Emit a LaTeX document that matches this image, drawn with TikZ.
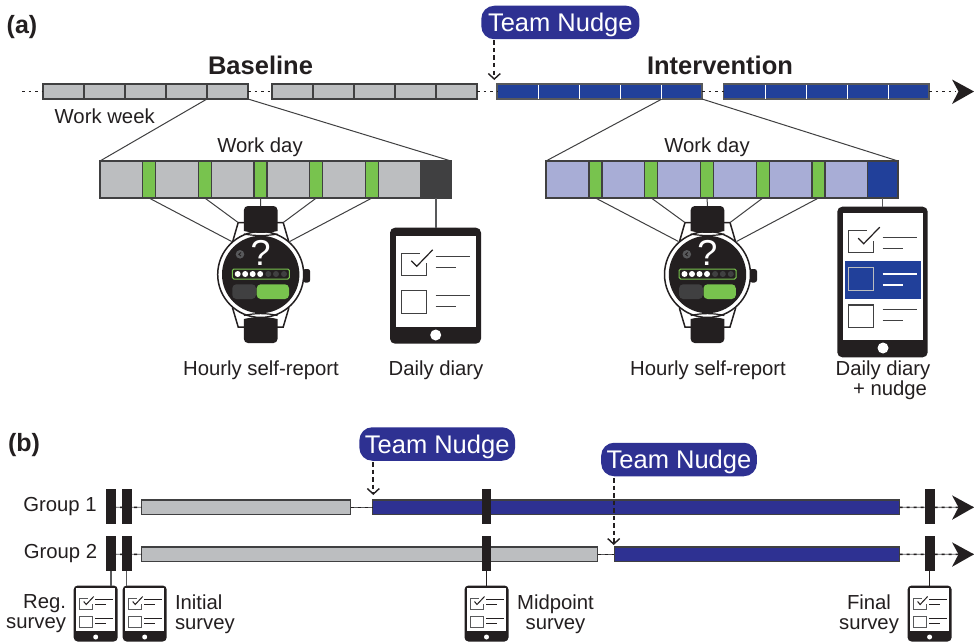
\documentclass[tikz,border=0pt]{standalone}
\usepackage{fontspec}
\setmainfont{Liberation Sans}
\usetikzlibrary{arrows.meta}
\definecolor{ink}{HTML}{231F20}
\definecolor{dk}{HTML}{404041}
\definecolor{gr}{HTML}{BCBEC0}
\definecolor{lil}{HTML}{A8ADD6}
\definecolor{grn}{HTML}{78C34E}
\definecolor{blu}{HTML}{21409A}
\definecolor{nav}{HTML}{2E3192}
\definecolor{edge}{HTML}{58595B}
\newcommand\labfont{\fontsize{20.3}{20}\selectfont}
\tikzset{
 x=1pt,y=-1pt,
 lab/.style={font=\labfont,text=ink,inner sep=0pt,outer sep=0pt,yshift=-2pt},
 ttl/.style={font=\fontsize{25.5}{25}\selectfont\bfseries,text=ink,inner sep=0pt,yshift=-1pt},
 pan/.style={font=\fontsize{25}{25}\selectfont\bfseries,text=ink,inner sep=0pt,yshift=-2pt},
 nudge/.style={fill=nav,rounded corners=13pt,text=white,font=\fontsize{25.5}{25}\selectfont,inner sep=0pt,outer sep=0pt,minimum height=33.5pt,minimum width=#1,text depth=0pt},
 grayseg/.style={fill=gr,draw=dk,line width=1.1pt},
 blueseg/.style={fill=blu,draw=edge,line width=1.1pt},
 navseg/.style={fill=nav,draw=dk,line width=1.1pt},
 daygray/.style={fill=gr,draw=dk,line width=1.1pt},
 daylil/.style={fill=lil,draw=dk,line width=1.1pt},
 greenseg/.style={fill=grn,draw=dk,line width=1.1pt},
 darkseg/.style={fill=dk,draw=dk,line width=1.1pt},
 tickbar/.style={fill=ink,draw=none},
 thin link/.style={draw=dk,line width=1pt},
 dots/.style={draw=ink,line width=1.5pt,dash pattern=on 2.5pt off 4pt},
 dashdrop/.style={draw=ink,line width=2pt,dash pattern=on 4.5pt off 3pt,-{Straight Barb[length=5.5pt,width=12pt,line width=1.4pt]}},
 tabbody/.style={fill=ink,rounded corners=#1,inner sep=0pt,outer sep=0pt},
 sheet/.style={fill=white,draw=none},
 boxline/.style={draw=dk,line width=1.2pt},
}
% #1 style, #2 name, #3 x1, #4 y1, #5 x2, #6 y2
\newcommand\boxnode[6]{\node[#1,anchor=north west,inner sep=0pt,outer sep=0pt,minimum width={(#5-#3)*1pt},minimum height={(#6-#4)*1pt}] (#2) at (#3,#4) {};}
% watch: #1 prefix, #2 centre x, #3 centre y
\newcommand\watch[3]{%
 \begin{scope}[shift={(#2,#3)}]
  \fill[ink,rounded corners=2.5pt] (42,-5.5) rectangle (49.5,8);
  \draw[ink,fill=white,line width=1.5pt] (-28,-33) -- (-22.5,-52) -- (22.5,-52) -- (28,-33) -- (28,34) -- (22.5,52.5) -- (-22.5,52.5) -- (-28,34) -- cycle;
  \draw[ink,fill=white,line width=1.5pt] (0,0) circle (43);
  \fill[ink] (0,0) circle (38.7);
  \fill[ink] (-16.8,-43.5) [rounded corners=4pt] -- (-16.8,-68.5) -- (16.8,-68.5) -- (16.8,-50) [sharp corners] -- (16.8,-43.5) .. controls (6,-41) and (-6,-41) .. (-16.8,-43.5) -- cycle;
  \fill[ink] (-16.8,44.5) [rounded corners=4pt] -- (-16.8,68.5) -- (16.8,68.5) -- (16.8,50) [sharp corners] -- (16.8,44.5) .. controls (6,42) and (-6,42) .. (-16.8,44.5) -- cycle;
  \draw[ink,line width=1.2pt] (-16.8,-40.5) .. controls (-6,-38.5) and (6,-38.5) .. (16.8,-40.5);
  \draw[ink,line width=1.2pt] (-16.8,41) .. controls (-6,38.5) and (6,38.5) .. (16.8,41);
  \fill[edge] (-20.7,-20.2) circle (4.3);
  \draw[ink,line width=.9pt] (-19.7,-22) -- (-21.9,-20.2) -- (-19.7,-18.4);
  \node[font=\fontsize{36}{36}\selectfont,text=white,inner sep=0pt] (#1q) at (0,-21.5) {?};
  \draw[grn,line width=1pt,rounded corners=1.5pt] (-28.4,-5.5) rectangle (28.6,4.5);
  \foreach \dx in {-23,-15.5,-8,-0.5} \fill[white] (\dx,-0.5) circle (3);
  \foreach \dx in {7.6,15.3,23.3} \fill[dk] (\dx,-0.5) circle (3);
  \fill[dk,rounded corners=4pt] (-28.4,9.8) rectangle (-4.7,24.5);
  \fill[grn,rounded corners=4pt] (-4,9.8) rectangle (28.3,24.5);
  \coordinate (#1a) at (-29,-33);
  \coordinate (#1b) at (-22.6,-52);
  \coordinate (#1c) at (0,-68.5);
  \coordinate (#1d) at (22.6,-52);
  \coordinate (#1e) at (29,-33);
 \end{scope}}
% check box with tick: #1 x, #2 y (top left)
\newcommand\checkbox[2]{%
 \draw[boxline] (#1+18,#2) -- (#1,#2) -- (#1,#2+22) -- (#1+25,#2+22) -- (#1+25,#2+10);
 \draw[ink,line width=1.2pt] (#1+9.5,#2+7.5) -- (#1+15,#2+13) -- (#1+31,#2-3.5);}
\newcommand\plainbox[2]{\draw[boxline] (#1,#2) rectangle (#1+25,#2+22.5);}
\newcommand\txtlines[3]{%
 \draw[draw=#3,line width=1.2pt] (#1,#2) -- (#1+34,#2);
 \draw[draw=#3,line width=1.2pt] (#1,#2+11) -- (#1+20,#2+11);}
% small tablet: #1 name, #2 left x
\newcommand\smalltab[2]{%
 \node[tabbody=4pt,anchor=north west,minimum width=44pt,minimum height=56pt] (#1) at (#2,585.5) {};
 \begin{scope}[shift={(#2,585.5)}]
  \fill[white] (2.6,2.6) rectangle (41.6,45.4);
  \fill[white] (22,51.5) circle (2.5);
  \draw[edge,line width=1pt] (14,12.5) -- (5.6,12.5) -- (5.6,23.6) -- (18.6,23.6) -- (18.6,18);
  \draw[ink,line width=1pt] (10,16) -- (12.5,19) -- (20,11);
  \draw[edge,line width=1pt] (5.6,31) rectangle (18.6,42);
  \draw[ink,line width=1pt] (21.5,13.8) -- (39,13.8);
  \draw[ink,line width=1pt] (21.5,19.2) -- (32.5,19.2);
  \draw[ink,line width=1pt] (21.5,32.5) -- (39,32.5);
  \draw[ink,line width=1pt] (21.5,37.8) -- (32.5,37.8);
 \end{scope}}
\begin{document}
\begin{tikzpicture}
\useasboundingbox (0,0) rectangle (974,642);
\fill[white] (0,0) rectangle (974,642);

% ---------- panel a ----------
\node[pan] (pa) at (22,25) {(a)};
\node[ttl] (base) at (260.5,64) {Baseline};
\node[ttl] (interv) at (720,64) {Intervention};
\node[nudge=158pt] (n1) at (560.3,22.5) {Team Nudge};

% weeks
\foreach \i/\a/\b in {1/43/84,2/84/125,3/125/166,4/166/207,5/207/248,6/272/313,7/313/354,8/354/395,9/395/436,10/436/477}
  {\boxnode{grayseg}{s\i}{\a}{84}{\b}{99}}
\boxnode{blueseg}{b1}{497}{84}{702}{99}
\boxnode{blueseg}{b2}{723.5}{84}{929}{99}
\foreach \x in {538,579,620,661,765,806,847,888}
  {\draw[white,line width=1pt] (\x,84.5) -- (\x,98.5);}
\coordinate (bs) at (661,99.5);
\coordinate (tstart) at (22,91.5);
\coordinate (ttip) at (974,91.5);
\draw[dots] (tstart) -- (s1.west);
\draw[dots] (s5.east) -- (s6.west);
\draw[dots] (s10.east) -- (b1.west);
\draw[dots] (b1.east) -- (b2.west);
\draw[dots] (b2.east) -- (956,91.5);
\fill[ink] (952,79.5) -- (ttip) -- (952,104) -- (958.5,91.5) -- cycle;
\coordinate (n1d) at (494.3,40.5);
\coordinate (n1e) at (494.3,80);
\draw[dashdrop] (n1d) -- (n1e);
\node[lab] (ww) at (104.7,114) {Work week};

% baseline day
\node[lab] (wd1) at (260,145) {Work day};
\boxnode{daygray}{d1}{100}{161}{451}{198}
\foreach \i/\a in {1/142.5,2/198.3,3/254,4/309.8,5/365.5}
  {\boxnode{greenseg}{g\i}{\a}{161}{\a+13}{198}}
\boxnode{darkseg}{dk1}{421}{161}{451}{198}
\draw[thin link] (s5.south west) -- (d1.north west);
\draw[thin link] (s5.south east) -- (d1.north east);

% intervention day
\node[lab] (wd2) at (707,145) {Work day};
\boxnode{daylil}{d2}{546}{161}{898}{198}
\foreach \i/\a in {1/589,2/644.8,3/700.5,4/756.3,5/812}
  {\boxnode{greenseg}{h\i}{\a}{161}{\a+13}{198}}
\boxnode{fill=blu,draw=dk,line width=1.1pt}{bl2}{867.5}{161}{898}{198}
\draw[thin link] (bs) -- (d2.north west);
\draw[thin link] (b1.south east) -- (d2.north east);

% watches
\watch{wa}{260.7}{274.5}
\watch{wb}{707.5}{274.5}
\draw[thin link] (g1.south) -- (waa);
\draw[thin link] (g2.south) -- (wab);
\draw[thin link] (g3.south) -- (wac);
\draw[thin link] (g4.south) -- (wad);
\draw[thin link] (g5.south) -- (wae);
\draw[thin link] (h1.south) -- (wba);
\draw[thin link] (h2.south) -- (wbb);
\draw[thin link] (h3.south) -- (wbc);
\draw[thin link] (h4.south) -- (wbd);
\draw[thin link] (h5.south) -- (wbe);

% diary tablet
\node[tabbody=5pt,anchor=north west,minimum width=91pt,minimum height=116pt] (tab1) at (390,227.7) {};
\draw[draw=edge,line width=1.2pt] (dk1.south) -- (dk1.south |- tab1.north);
\fill[sheet] (396,235.7) rectangle (476,327);
\fill[white] (435.7,335) circle (5.5);
\checkbox{401.7}{253.3}
\txtlines{435.7}{256.7}{dk}
\plainbox{401.7}{290.8}
\txtlines{435.7}{295.7}{dk}

% diary + nudge tablet
\node[tabbody=5pt,anchor=north west,minimum width=90.4pt,minimum height=150.6pt] (tab2) at (837.3,206.7) {};
\draw[draw=edge,line width=1.2pt] (bl2.south) -- (bl2.south |- tab2.north);
\fill[sheet] (843,212.7) rectangle (923,340);
\fill[white] (883,348) circle (5.5);
\checkbox{848.7}{230.7}
\txtlines{882.7}{237.3}{dk}
\fill[blu] (845,261) rectangle (921,299);
\draw[gr,line width=1.2pt] (848.7,267.8) rectangle (873.7,290.5);
\txtlines{882.7}{274}{white}
\plainbox{848.7}{304.9}
\txtlines{882.7}{309.7}{dk}

\node[lab] (l1) at (261,368) {Hourly self-report};
\node[lab] (l2) at (436,368) {Daily diary};
\node[lab] (l3) at (708,368) {Hourly self-report};
\node[lab] (l4) at (883,368) {Daily diary};
\node[lab] (l5) at (890,388) {+ nudge};

% ---------- panel b ----------
\node[pan] (pb) at (24,443) {(b)};
\node[nudge=155.7pt] (n2) at (437.2,444) {Team Nudge};
\node[nudge=155.7pt] (n3) at (679,459.5) {Team Nudge};
\node[lab] (g1lab) at (60,505) {Group 1};
\node[lab] (g2lab) at (60.5,552) {Group 2};

\boxnode{fill=gr,draw=dk,line width=1.1pt}{ga}{141.5}{500}{350.5}{514.5}
\boxnode{navseg}{na}{372.5}{500}{899.7}{514.5}
\boxnode{fill=gr,draw=dk,line width=1.1pt}{gb}{141.5}{547}{597.7}{561.5}
\boxnode{navseg}{nb}{614.4}{547}{899.7}{561.5}

\coordinate (ra) at (106,507.3);
\coordinate (rb) at (106,554.3);
\coordinate (tipa) at (974,507.3);
\coordinate (tipb) at (974,554.3);
\foreach \p/\q in {ra/ga.west,ga.east/na.west,rb/gb.west,gb.east/nb.west,na.east/tipa,nb.east/tipb}
 {\draw[draw=edge,line width=.7pt] (\p) -- (\q);
  \draw[draw=ink,line width=1.5pt,dash pattern=on 3pt off 4pt] (\p) -- (\q);}
\fill[ink] (952,495.3) -- (tipa) -- (952,519.8) -- (958.5,507.3) -- cycle;
\fill[ink] (952,542.3) -- (tipb) -- (952,566.8) -- (958.5,554.3) -- cycle;

\foreach \nm/\a in {a/106.3,b/122,c/481.5,d/925}
 {\boxnode{tickbar}{t\nm1}{\a}{489}{\a+9.5}{524}
  \boxnode{tickbar}{t\nm2}{\a}{536}{\a+9.5}{571}}

\coordinate (n2d) at (373.3,462);
\coordinate (n2e) at (373.3,495);
\coordinate (n3d) at (613.7,478);
\coordinate (n3e) at (613.7,545);
\draw[dashdrop] (n2d) -- (n2e);
\draw[dashdrop] (n3d) -- (n3e);

\smalltab{sa}{73.7}
\smalltab{sb}{122.7}
\smalltab{sc}{464.5}
\smalltab{sd}{907.6}
\draw[draw=edge,line width=1.2pt] (ta2.south) -- (ta2.south |- sa.north);
\draw[draw=edge,line width=1.2pt] (tb2.south) -- (tb2.south |- sb.north);
\draw[draw=ink,line width=1.1pt] (tc2.south) -- (tc2.south |- sc.north);
\draw[draw=ink,line width=1.1pt] (td2.south) -- (td2.south |- sd.north);

\node[lab,align=right,anchor=east] (lr) at (66,612) {Reg.\\survey};
\node[lab,align=left,anchor=west] (li) at (175,612) {Initial\\survey};
\node[lab,align=center] (lm) at (555.5,612) {Midpoint\\survey};
\node[lab,align=center] (lf) at (869,612) {Final\\survey};
\end{tikzpicture}
\end{document}
